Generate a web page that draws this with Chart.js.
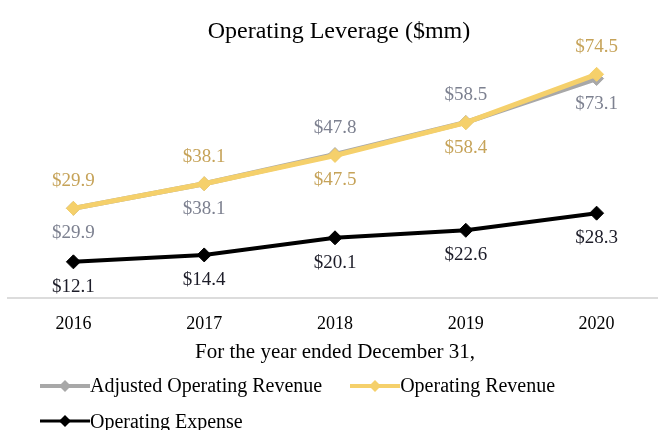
<!DOCTYPE html>
<html>
<head>
<meta charset="utf-8">
<script src="https://cdn.jsdelivr.net/npm/chart.js@4/dist/chart.umd.min.js"></script>
<style>
    body { margin: 0; background: #fff; }
    #wrap { position: relative; width: 658px; height: 430px; overflow: hidden; }
    #legend { position: absolute; left: 40px; top: 368px; width: 618px; font-family: 'Liberation Serif', serif; font-size: 20px; color: #000; line-height: 35px; }
    .leg-item { display: inline-flex; align-items: center; height: 35px; margin-right: 28px; }
</style>
</head>
<body>
<div id="wrap">
    <canvas id="chart" width="670" height="430"></canvas>
    <div id="legend"></div>
</div>
<script>
const years = ['2016', '2017', '2018', '2019', '2020'];
const adjustedRevenue = [29.9, 38.1, 47.8, 58.5, 73.1];
const operatingRevenue = [29.9, 38.1, 47.5, 58.4, 74.5];
const operatingExpense = [12.1, 14.4, 20.1, 22.6, 28.3];

// which side of the point each value label sits on
const adjustedSide = ['below', 'below', 'above', 'above', 'below'];
const revenueSide = ['above', 'above', 'below', 'below', 'above'];
const expenseSide = ['below', 'below', 'below', 'below', 'below'];

const serif = "'Liberation Serif', 'Times New Roman', serif";

const valueLabels = {
    id: 'valueLabels',
    afterDatasetsDraw(chart) {
        const ctx = chart.ctx;
        ctx.save();
        ctx.font = '19px ' + serif;
        ctx.textAlign = 'center';
        ctx.textBaseline = 'middle';
        chart.data.datasets.forEach((ds, i) => {
            const meta = chart.getDatasetMeta(i);
            meta.data.forEach((pt, j) => {
                const dy = ds.labelSide[j] === 'above' ? -27 : 25;
                ctx.fillStyle = ds.labelColor;
                ctx.fillText('$' + ds.data[j].toFixed(1), pt.x, pt.y + dy);
            });
        });
        ctx.restore();
    }
};

const ctx = document.getElementById('chart').getContext('2d');
const chart = new Chart(ctx, {
    type: 'line',
    data: {
        labels: years,
        datasets: [
            {
                label: 'Adjusted Operating Revenue',
                data: adjustedRevenue,
                borderColor: '#a8a8a8',
                backgroundColor: '#a8a8a8',
                borderWidth: 5,
                pointStyle: 'rectRot',
                pointRadius: 7,
                pointBorderWidth: 1,
                order: 3,
                labelSide: adjustedSide,
                labelColor: '#7d8190'
            },
            {
                label: 'Operating Revenue',
                data: operatingRevenue,
                borderColor: '#f5d06b',
                backgroundColor: '#f5d06b',
                borderWidth: 5,
                pointStyle: 'rectRot',
                pointRadius: 7,
                pointBorderWidth: 1,
                order: 2,
                labelSide: revenueSide,
                labelColor: '#c6a359'
            },
            {
                label: 'Operating Expense',
                data: operatingExpense,
                borderColor: '#000',
                backgroundColor: '#000',
                borderWidth: 4,
                pointStyle: 'rectRot',
                pointRadius: 7,
                pointBorderWidth: 1,
                order: 1,
                labelSide: expenseSide,
                labelColor: '#1c1c28'
            }
        ]
    },
    options: {
        responsive: false,
        animation: false,
        layout: {
            padding: { left: 8, right: 0, top: 0, bottom: 65 }
        },
        scales: {
            y: {
                display: false,
                min: 0,
                max: 80
            },
            x: {
                offset: true,
                grid: { display: false },
                border: { display: true, color: '#dcdcdc', width: 2 },
                ticks: {
                    color: '#000',
                    padding: 7,
                    font: { family: serif, size: 18 }
                },
                title: {
                    display: true,
                    text: 'For the year ended December 31,',
                    color: '#000',
                    padding: { top: -2, bottom: 0 },
                    font: { family: serif, size: 21 }
                }
            }
        },
        plugins: {
            legend: { display: false },
            tooltip: { enabled: false },
            title: {
                display: true,
                text: 'Operating Leverage ($mm)',
                color: '#000',
                padding: { top: 17, bottom: 12 },
                font: { family: serif, size: 24, weight: 'normal' }
            }
        }
    },
    plugins: [valueLabels]
});

// legend below the chart, two items on the first row, one on the second
function buildLegend() {
    const box = document.getElementById('legend');
    chart.data.datasets.forEach((ds, i) => {
        const item = document.createElement('span');
        item.className = 'leg-item';
        item.innerHTML =
            '<svg width="50" height="14" viewBox="0 0 50 14">' +
            '<line x1="0" y1="7" x2="50" y2="7" stroke="' + ds.borderColor + '" stroke-width="' + (ds.borderWidth - 1) + '"/>' +
            '<polygon points="25,1 31,7 25,13 19,7" fill="' + ds.backgroundColor + '"/>' +
            '</svg><span>' + ds.label + '</span>';
        box.appendChild(item);
        if (i === 1) box.appendChild(document.createElement('br'));
    });
}
buildLegend();
</script>
</body>
</html>
